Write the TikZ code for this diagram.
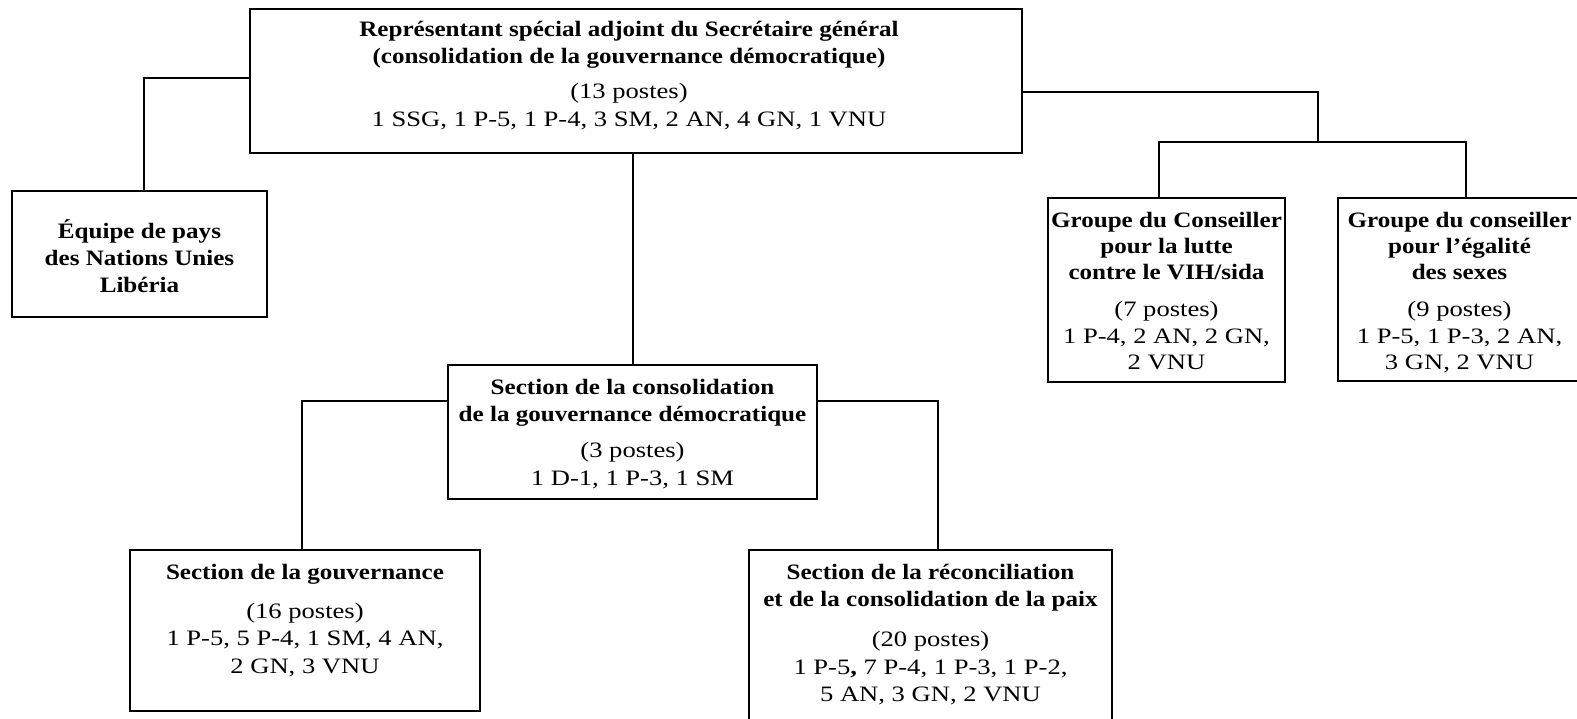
\documentclass[tikz,border=0pt]{standalone}
\usepackage{fontspec}
\setmainfont{Liberation Serif}
\usepackage{graphicx}
% #1 width, #2 height, #3 top gap, #4 baselineskip, #5 x offset, #6 content
\newcommand\orgbox[6]{%
  \begin{minipage}[c][#2pt][t]{#1pt}\centering\vspace*{#3pt}%
  \hspace*{#5pt}\scalebox{1.14}[1]{\fontsize{22}{#4}\selectfont\begin{tabular}{@{}c@{}}#6\end{tabular}}%
  \end{minipage}}
\newcommand\rg[1]{\scalebox{1.06}[1]{#1}}
\tikzset{
  orgnode/.style={draw, line width=2pt, inner sep=0pt, outer sep=0pt, anchor=north west},
  conn/.style={line width=2pt}
}
\begin{document}
\begin{tikzpicture}[x=1pt,y=-1pt]
\useasboundingbox (0,0) rectangle (1577,719);
\node[orgnode] (top) at (250,9) {\orgbox{772}{144}{8}{27.4}{-14}{%
  \textbf{Représentant spécial adjoint du Secrétaire général}\\
  \textbf{(consolidation de la gouvernance démocratique)}\\[8pt]
  \rg{(13 postes)}\\
  \rg{1 SSG, 1 P-5, 1 P-4, 3 SM, 2 AN, 4 GN, 1 VNU}}};
\node[orgnode] (equipe) at (12,191) {\orgbox{255}{126}{29}{26.6}{0}{%
  \textbf{Équipe de pays}\\
  \textbf{des Nations Unies}\\
  \textbf{Libéria}}};
\node[orgnode] (consol) at (448,365) {\orgbox{369}{134}{10}{27.6}{0}{%
  \textbf{Section de la consolidation}\\
  \textbf{de la gouvernance démocratique}\\[8pt]
  \rg{(3 postes)}\\
  \rg{1 D-1, 1 P-3, 1 SM}}};
\node[orgnode] (vih) at (1048,198) {\orgbox{237}{184}{11}{26.2}{0}{%
  \textbf{Groupe du Conseiller}\\
  \textbf{pour la lutte}\\
  \textbf{contre le VIH/sida}\\[11pt]
  \rg{(7 postes)}\\
  \rg{1 P-4, 2 AN, 2 GN,}\\
  \rg{2 VNU}}};
\node[orgnode] (egal) at (1338,198) {\orgbox{243}{183}{11}{26.2}{0}{%
  \textbf{Groupe du conseiller}\\
  \textbf{pour l’égalité}\\
  \textbf{des sexes}\\[11pt]
  \rg{(9 postes)}\\
  \rg{1 P-5, 1 P-3, 2 AN,}\\
  \rg{3 GN, 2 VNU}}};
\node[orgnode] (gouv) at (130,550) {\orgbox{350}{161}{10}{27.4}{0}{%
  \textbf{Section de la gouvernance}\\[12pt]
  \rg{(16 postes)}\\
  \rg{1 P-5, 5 P-4, 1 SM, 4 AN,}\\
  \rg{2 GN, 3 VNU}}};
\node[orgnode] (recon) at (749,550) {\orgbox{363}{182}{10}{27.4}{0}{%
  \textbf{Section de la réconciliation}\\
  \textbf{et de la consolidation de la paix}\\[13pt]
  \rg{(20 postes)}\\
  \rg{1 P-5\textbf{,} 7 P-4, 1 P-3, 1 P-2,}\\
  \rg{5 AN, 3 GN, 2 VNU}}};
\coordinate (j1) at (144,78);
\coordinate (j2) at (1318,92);
\coordinate (bus) at (1318,142);
\coordinate (v1) at (1159,142);
\coordinate (v2) at (1466,142);
\coordinate (j3) at (302,401);
\coordinate (j4) at (938,401);
\draw[conn] (top.west |- j1) -- (j1) -- (j1 |- equipe.north);
\draw[conn] (consol.north |- top.south) -- (consol.north);
\draw[conn] (top.east |- j2) -- (j2) -- (bus);
\draw[conn] (v1 |- vih.north) -- (v1) -- (v2) -- (v2 |- egal.north);
\draw[conn] (consol.west |- j3) -- (j3) -- (j3 |- gouv.north);
\draw[conn] (consol.east |- j4) -- (j4) -- (j4 |- recon.north);
\end{tikzpicture}
\end{document}
